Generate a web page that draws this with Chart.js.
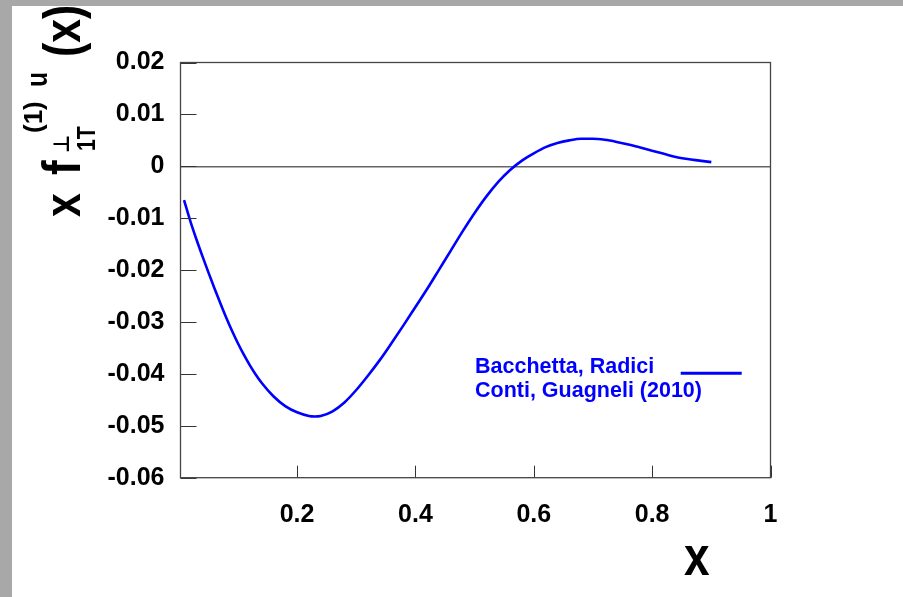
<!DOCTYPE html>
<html><head><meta charset="utf-8">
<script src="https://cdn.jsdelivr.net/npm/chart.js@4.4.1/dist/chart.umd.min.js"></script>
<style>
html,body{margin:0;padding:0;background:#a8a8a8;width:903px;height:597px;overflow:hidden}
#wrap{position:absolute;left:12px;top:6px;width:891px;height:591px;background:#fff}
canvas{display:block}
</style></head><body><div id="wrap"><canvas id="c" width="891" height="591"></canvas></div>
<script>
// ---- data ----
const xValues = [0.009, 0.02, 0.03, 0.04, 0.05, 0.06, 0.07, 0.08, 0.09, 0.10, 0.11, 0.12, 0.13, 0.14, 0.16, 0.18, 0.20, 0.22, 0.23, 0.24, 0.26, 0.28, 0.30, 0.32, 0.34, 0.36, 0.38, 0.40, 0.42, 0.44, 0.46, 0.48, 0.50, 0.52, 0.54, 0.56, 0.58, 0.60, 0.62, 0.64, 0.66, 0.68, 0.70, 0.72, 0.74, 0.76, 0.78, 0.80, 0.82, 0.84, 0.86, 0.88, 0.90];
const yValues = [-0.0065, -0.0107, -0.0141, -0.0173, -0.0204, -0.0234, -0.0263, -0.0291, -0.0317, -0.0341, -0.0363, -0.0383, -0.0401, -0.0417, -0.0443, -0.0462, -0.0474, -0.0481, -0.0482, -0.0481, -0.0472, -0.0455, -0.0431, -0.0403, -0.0373, -0.0340, -0.0306, -0.0271, -0.0236, -0.0199, -0.0162, -0.0125, -0.0090, -0.0058, -0.0030, -0.0007, 0.0011, 0.0025, 0.0037, 0.0045, 0.0050, 0.0053, 0.0053, 0.0051, 0.0047, 0.0042, 0.0036, 0.0030, 0.0024, 0.0018, 0.0014, 0.0011, 0.0008];
const xTickValues = [0.2, 0.4, 0.6, 0.8, 1];
const xTickLabels = ['0.2', '0.4', '0.6', '0.8', '1'];
const yTickValues = [-0.06, -0.05, -0.04, -0.03, -0.02, -0.01, 0, 0.01, 0.02];
const yTickLabels = ['-0.06', '-0.05', '-0.04', '-0.03', '-0.02', '-0.01', '0', '0.01', '0.02'];
const seriesLabel = 'Bacchetta, Radici Conti, Guagneli (2010)';
const legendLines = ['Bacchetta, Radici', 'Conti, Guagneli (2010)'];
const xTitle = 'x';

const points = xValues.map((x, i) => ({x: x, y: yValues[i]}));
const lookup = (vals, labs, v) => { const i = vals.findIndex(t => Math.abs(t - v) < 1e-9); return i >= 0 ? labs[i] : ''; };
const TICKFONT = {family: "'Liberation Sans', Arial, sans-serif", size: 25, weight: 'bold'};

const decor = {
  id: 'decor',
  afterDatasetsDraw(chart) {
    const ctx = chart.ctx, a = chart.chartArea, xs = chart.scales.x, ys = chart.scales.y;
    ctx.save();
    // inner tick marks
    ctx.strokeStyle = '#333'; ctx.lineWidth = 1;
    ctx.beginPath();
    ys.ticks.forEach(t => { const py = Math.round(ys.getPixelForValue(t.value)) + 0.5; ctx.moveTo(a.left, py); ctx.lineTo(a.left + 16, py); });
    xs.ticks.forEach(t => { const px = Math.round(xs.getPixelForValue(t.value)) + 0.5; ctx.moveTo(px, a.bottom); ctx.lineTo(px, a.bottom - 12); });
    ctx.stroke();
    // frame
    ctx.strokeStyle = '#444'; ctx.lineWidth = 1.3;
    ctx.strokeRect(a.left, a.top, a.right - a.left, a.bottom - a.top);
    ctx.restore();
  },
  afterDraw(chart) {
    const ctx = chart.ctx;
    ctx.save();
    ctx.fillStyle = '#000';
    ctx.textBaseline = 'alphabetic';
    ctx.textAlign = 'left';
    // x axis title
    ctx.save();
    ctx.translate(672, 569);
    ctx.scale(0.82, 1);
    ctx.font = "bold 56px 'Liberation Sans', Arial, sans-serif";
    ctx.fillText(xTitle, 0, 0);
    ctx.restore();
    // y axis title: x f_{1T}^{⊥(1) u}(x)
    ctx.save();
    ctx.translate(68, 211);
    ctx.rotate(-Math.PI / 2);
    const piece = (txt, tx, ty, size, sx, fam) => {
      ctx.save(); ctx.translate(tx, ty); ctx.scale(sx, 1);
      ctx.font = 'bold ' + size + 'px ' + (fam || "'Liberation Sans', Arial, sans-serif");
      ctx.fillText(txt, 0, 0); ctx.restore();
    };
    piece('x', 0, 0, 52, 0.82);
    piece('f', 42, 0, 54, 0.82);
    piece('\u22A5', 64, -11, 22, 0.9, "'DejaVu Sans', sans-serif");
    piece('1T', 66, 15, 26, 0.82);
    piece('(1)', 84, -38, 26, 1);
    piece('u', 130, -33, 30, 0.82);
    piece('(x)', 160, 0, 52, 0.82);
    ctx.restore();
    // legend
    ctx.fillStyle = '#0000ff';
    ctx.font = "bold 21.5px 'Liberation Sans', Arial, sans-serif";
    ctx.fillText(legendLines[0], 463, 367.3);
    ctx.fillText(legendLines[1], 463, 391.3);
    ctx.strokeStyle = '#0000ff'; ctx.lineWidth = 3;
    ctx.beginPath(); ctx.moveTo(668.7, 367.3); ctx.lineTo(729.7, 367.3); ctx.stroke();
    ctx.restore();
  }
};

new Chart(document.getElementById('c'), {
  type: 'line',
  data: {datasets: [{
    label: seriesLabel,
    data: points,
    borderColor: '#0000ff',
    borderWidth: 2.6,
    pointRadius: 0,
    fill: false,
    cubicInterpolationMode: 'monotone'
  }]},
  options: {
    responsive: false,
    animation: false,
    devicePixelRatio: 1,
    layout: {padding: {left: 0, right: 132.5, top: 56.5, bottom: 0}},
    plugins: {legend: {display: false}, tooltip: {enabled: false}},
    scales: {
      x: {
        type: 'linear', min: 0.003, max: 1,
        afterBuildTicks: s => { s.ticks = xTickValues.map(v => ({value: v})); },
        afterFit: s => { s.height = 119.3; },
        ticks: {callback: v => lookup(xTickValues, xTickLabels, v), font: TICKFONT, color: '#000', padding: 22, maxRotation: 0, autoSkip: false},
        grid: {display: true, drawOnChartArea: false, drawTicks: false},
        border: {display: false}
      },
      y: {
        type: 'linear', min: -0.06, max: 0.02,
        afterBuildTicks: s => { s.ticks = yTickValues.map(v => ({value: v})); },
        afterFit: s => { s.width = 168.5; },
        ticks: {callback: v => lookup(yTickValues, yTickLabels, v), font: TICKFONT, color: '#000', padding: 16, autoSkip: false},
        grid: {display: true, drawOnChartArea: true, drawTicks: false, lineWidth: 1.5,
               color: c => (c.tick && Math.abs(c.tick.value) < 1e-9) ? '#666' : 'rgba(0,0,0,0)'},
        border: {display: false}
      }
    }
  },
  plugins: [decor]
});
</script>
</body></html>
